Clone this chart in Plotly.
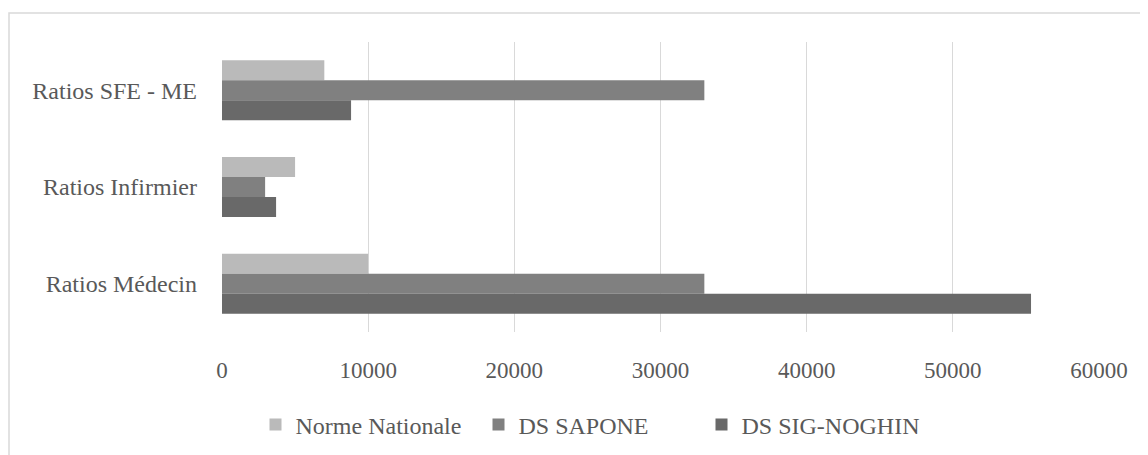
import plotly.graph_objects as go

categories = ["Ratios SFE - ME", "Ratios Infirmier", "Ratios Médecin"]
norme_nationale = [7000, 5000, 10000]
ds_sapone = [33000, 2950, 33000]
ds_sig_noghin = [8830, 3700, 55350]
x_ticks = [0, 10000, 20000, 30000, 40000, 50000, 60000]
x_tick_labels = ["0", "10000", "20000", "30000", "40000", "50000", "60000"]

series = [
    ("Norme Nationale", norme_nationale, "#bababa"),
    ("DS SAPONE", ds_sapone, "#808080"),
    ("DS SIG-NOGHIN", ds_sig_noghin, "#696969"),
]

fig = go.Figure()
for name, vals, color in series:
    fig.add_trace(go.Bar(
        y=categories, x=vals, name=name, orientation="h",
        marker=dict(color=color, line=dict(width=0)),
    ))

# page body has an 8px margin; compensate so the picture lines up
OFF = 8
W, H = 1148 - OFF, 455 - OFF
L, R, T, B = 222 - OFF, 1099 - OFF, 42 - OFF, 332 - OFF
FONT = "Liberation Serif"
TXT = "#595959"
fig.update_layout(
    width=W, height=H,
    margin=dict(l=L, r=W - R, t=T, b=H - B),
    paper_bgcolor="white", plot_bgcolor="white",
    barmode="group", bargap=0.38, bargroupgap=0,
    font=dict(family=FONT, size=24, color=TXT),
    showlegend=True,
    legend=dict(orientation="h", xref="container", yref="container",
                x=(590 - OFF) / W, xanchor="center", y=1 - (425 - OFF) / H,
                yanchor="middle", entrywidth=178, entrywidthmode="pixels",
                font=dict(family=FONT, size=24, color=TXT),
                traceorder="normal"),
    xaxis=dict(range=[0, 60000], tickvals=x_ticks, ticktext=x_tick_labels,
               showgrid=True, gridcolor="#d9d9d9", gridwidth=1.3,
               zeroline=False, showline=False, ticks="",
               ticklabelstandoff=22,
               tickfont=dict(family=FONT, size=23, color=TXT)),
    yaxis=dict(autorange="reversed", showgrid=False, zeroline=False,
               showline=False, ticks="", ticklabelstandoff=24,
               tickfont=dict(family=FONT, size=24, color=TXT)),
)

# outer chart border
pw, ph = R - L, B - T
def px(x):
    return (x - OFF - L) / pw
def py(y):
    return (B - (y - OFF)) / ph
fig.add_shape(type="rect", xref="paper", yref="paper",
              x0=px(9), x1=px(1148 + 5), y0=py(455 + 5), y1=py(13),
              line=dict(color="#d9d9d9", width=1.5), fillcolor="rgba(0,0,0,0)",
              layer="below")

fig.write_html("out.html")
